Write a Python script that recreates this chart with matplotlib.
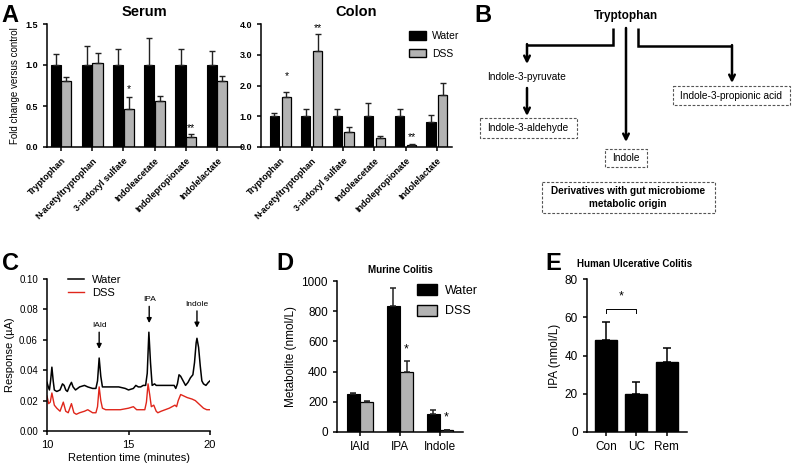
import numpy as np
import matplotlib
matplotlib.use("Agg")
import matplotlib.pyplot as plt
from matplotlib.patches import Rectangle, Patch

plt.rcParams['font.family'] = ['Liberation Sans', 'DejaVu Sans']

# ---------------- data ----------------
a_metabolites = ["Tryptophan", "N-acetyltryptophan", "3-indoxyl sulfate",
                 "Indoleacetate", "Indolepropionate", "Indolelactate"]
serum_water = [1.0, 1.0, 1.0, 1.0, 1.0, 1.0]
serum_water_err = [0.13, 0.23, 0.19, 0.33, 0.20, 0.17]
serum_dss = [0.80, 1.02, 0.46, 0.56, 0.12, 0.81]
serum_dss_err = [0.05, 0.13, 0.15, 0.06, 0.035, 0.055]
serum_stars = ["", "", "*", "", "**", ""]
serum_star_y = [0, 0, 0.75, 0, 0.28, 0]

colon_water = [1.0, 1.0, 1.0, 1.0, 1.0, 0.80]
colon_water_err = [0.10, 0.25, 0.23, 0.43, 0.24, 0.24]
colon_dss = [1.63, 3.12, 0.50, 0.29, 0.07, 1.68]
colon_dss_err = [0.17, 0.54, 0.14, 0.08, 0.04, 0.39]
colon_stars = ["*", "**", "", "", "**", ""]
colon_star_y = [2.42, 3.98, 0, 0, 0.45, 0]

c_time_water = [10.0, 10.08, 10.15, 10.22, 10.3, 10.38, 10.45, 10.6, 10.8, 10.95, 11.05,
                11.15, 11.25, 11.4, 11.5, 11.6, 11.75, 12.0, 12.3, 12.5, 12.8, 13.0,
                13.1, 13.2, 13.3, 13.4, 13.7, 14.0, 14.4, 14.8, 15.0, 15.3, 15.45,
                15.6, 15.75, 15.9, 16.05, 16.15, 16.25, 16.35, 16.45, 16.6, 16.7,
                17.0, 17.5, 17.8, 17.9, 18.0, 18.1, 18.2, 18.35, 18.5, 18.65, 18.8,
                18.95, 19.05, 19.15, 19.2, 19.3, 19.4, 19.5, 19.6, 19.75, 19.9, 20.0]
c_resp_water = [0.032, 0.029, 0.027, 0.033, 0.042, 0.033, 0.027, 0.026, 0.027, 0.031, 0.030,
                0.027, 0.026, 0.030, 0.032, 0.029, 0.027, 0.029, 0.030, 0.029, 0.028, 0.028,
                0.033, 0.048, 0.036, 0.029, 0.029, 0.029, 0.029, 0.028, 0.027, 0.028, 0.030,
                0.029, 0.029, 0.030, 0.030, 0.038, 0.065, 0.045, 0.030, 0.031, 0.030,
                0.030, 0.030, 0.030, 0.028, 0.031, 0.037, 0.036, 0.033, 0.030, 0.032, 0.035,
                0.037, 0.045, 0.058, 0.061, 0.055, 0.043, 0.033, 0.031, 0.030, 0.032, 0.033]
c_time_dss = [10.0, 10.1, 10.2, 10.3, 10.45, 10.6, 10.8, 11.0, 11.15, 11.3, 11.5, 11.65,
              11.8, 12.0, 12.3, 12.5, 12.8, 13.0, 13.1, 13.2, 13.3, 13.4, 13.6, 14.0,
              14.5, 15.0, 15.3, 15.5, 15.8, 16.0, 16.1, 16.2, 16.3, 16.4, 16.55, 16.7,
              16.8, 17.0, 17.5, 17.85, 17.95, 18.05, 18.2, 18.4, 18.6, 18.9, 19.1,
              19.3, 19.5, 19.6, 19.8, 20.0]
c_resp_dss = [0.023, 0.018, 0.019, 0.025, 0.017, 0.015, 0.013, 0.019, 0.013, 0.012, 0.018, 0.012,
              0.011, 0.012, 0.013, 0.014, 0.012, 0.012, 0.016, 0.029, 0.020, 0.015, 0.014, 0.014,
              0.014, 0.015, 0.016, 0.014, 0.014, 0.014, 0.019, 0.031, 0.024, 0.016, 0.017, 0.013,
              0.012, 0.013, 0.015, 0.017, 0.016, 0.020, 0.024, 0.023, 0.022, 0.021, 0.020,
              0.018, 0.016, 0.015, 0.014, 0.014]
c_peaks = ["IAld", "IPA", "Indole"]
c_peak_times = [13.2, 16.27, 19.2]
c_peak_text_y = [0.067, 0.084, 0.081]

d_metabolites = ["IAld", "IPA", "Indole"]
d_water = [250, 835, 122]
d_water_err = [6, 118, 25]
d_dss = [197, 400, 12]
d_dss_err = [5, 70, 3]
d_stars = ["", "*", "*"]

e_groups = ["Con", "UC", "Rem"]
e_values = [48, 20, 36.5]
e_err = [9.5, 6, 7.5]

# ---------------- layout helpers ----------------
W, H = 792, 463
fig = plt.figure(figsize=(W / 100, H / 100), dpi=100)


def fx(x):
    return x / W


def fy(y):
    return 1 - y / H


def add_ax(x0, y0, x1, y1):
    return fig.add_axes([fx(x0), fy(y1), fx(x1) - fx(x0), fy(y0) - fy(y1)])


def style(ax, lw=1.1):
    for s in ['top', 'right']:
        ax.spines[s].set_visible(False)
    for s in ['left', 'bottom']:
        ax.spines[s].set_linewidth(lw)
    ax.tick_params(direction='out', length=3, width=lw)


GRAY = '#b3b3b3'

# ---------------- panel A ----------------
def panel_a(ax, water, werr, dss, derr, stars, star_y, ylim, yticks, title, xlim, bw, off):
    x = np.arange(len(a_metabolites))
    zeros = np.zeros(len(x))
    ax.bar(x - off, water, bw, color='black', edgecolor='black', linewidth=0.8,
           yerr=[zeros, werr], error_kw=dict(ecolor='#222222', elinewidth=1.0, capsize=2.2, capthick=1.0))
    ax.bar(x + off, dss, bw, color=GRAY, edgecolor='black', linewidth=0.9,
           yerr=[zeros, derr], error_kw=dict(ecolor='#222222', elinewidth=1.0, capsize=2.2, capthick=1.0))
    for i, s in enumerate(stars):
        if s:
            ax.text(x[i] + off, star_y[i] - ylim[1] * 0.03, s, ha='center', va='center',
                    fontsize=7.5, clip_on=False)
    ax.set_ylim(*ylim)
    ax.set_xlim(*xlim)
    ax.set_yticks(yticks)
    ax.set_yticklabels([f"{t:.1f}" for t in yticks], fontsize=6.5, fontweight='bold')
    ax.set_xticks(x)
    ax.set_xticklabels(a_metabolites, rotation=45, ha='right', rotation_mode='anchor',
                       fontsize=6.5, fontweight='bold')
    ax.set_title(title, fontsize=10.5, fontweight='bold', pad=6)
    style(ax)


ax_s = add_ax(47, 24, 242, 147)
panel_a(ax_s, serum_water, serum_water_err, serum_dss, serum_dss_err, serum_stars, serum_star_y,
        (0, 1.5), [0.0, 0.5, 1.0, 1.5], "Serum", (-0.45, 5.8), 0.33, 0.17)
ax_s.set_ylabel("Fold change versus control", fontsize=7, labelpad=4)

ax_c = add_ax(261, 24, 452, 147)
panel_a(ax_c, colon_water, colon_water_err, colon_dss, colon_dss_err, colon_stars, colon_star_y,
        (0, 4.0), [0.0, 1.0, 2.0, 3.0, 4.0], "Colon", (-0.62, 5.48), 0.29, 0.19)
ax_c.legend(handles=[Patch(facecolor='black', edgecolor='black'),
                     Patch(facecolor=GRAY, edgecolor='black')],
            labels=["Water", "DSS"], loc='upper left', bbox_to_anchor=(fx(400), fy(22)),
            bbox_transform=fig.transFigure, frameon=False, fontsize=7.5,
            handlelength=1.6, handleheight=0.9, handletextpad=0.6, labelspacing=0.7)

# ---------------- panel B (diagram) ----------------
axb = fig.add_axes([0, 0, 1, 1], zorder=-1)
axb.set_xlim(0, W)
axb.set_ylim(H, 0)
axb.axis('off')

lw_arrow = 1.8
def seg(xs, ys):
    axb.plot(xs, ys, color='black', lw=lw_arrow, solid_capstyle='butt', solid_joinstyle='miter')

def arrow(x, y0, y1):
    axb.annotate("", xy=(x, y1), xytext=(x, y0),
                 arrowprops=dict(arrowstyle='->', lw=lw_arrow, color='black',
                                 mutation_scale=10, shrinkA=0, shrinkB=0))

def dbox(x0, y0, x1, y1):
    axb.add_patch(Rectangle((x0, y0), x1 - x0, y1 - y0, fill=False, edgecolor='#555555',
                            linestyle=(0, (2.5, 1.5)), lw=0.8))

axb.text(626, 16, "Tryptophan", ha='center', va='center', fontsize=8.5, fontweight='bold')
seg([613, 613, 527], [28, 45, 45])
arrow(527, 44.1, 64)
axb.text(527, 77, "Indole-3-pyruvate", ha='center', va='center', fontsize=7.3)
arrow(527, 88, 116)
dbox(480, 118, 577, 138)
axb.text(528, 128, "Indole-3-aldehyde", ha='center', va='center', fontsize=7.3)

arrow(626, 28, 142)
dbox(605, 149, 647, 167)
axb.text(626, 158, "Indole", ha='center', va='center', fontsize=7.3)

seg([638, 638, 732], [28, 46, 46])
arrow(732, 45.1, 83)
dbox(673, 86, 790, 105)
axb.text(731, 96, "Indole-3-propionic acid", ha='center', va='center', fontsize=7.3)

dbox(542, 182, 715, 213)
axb.text(628, 197.5, "Derivatives with gut microbiome\nmetabolic origin", ha='center', va='center',
         fontsize=7.2, fontweight='bold', linespacing=1.35)

# ---------------- panel C ----------------
ax3 = add_ax(47, 279, 210, 431)
ax3.plot(c_time_water, c_resp_water, color='black', lw=1.1, label="Water")
ax3.plot(c_time_dss, c_resp_dss, color='#e0261b', lw=1.0, label="DSS")
for name, t, ty in zip(c_peaks, c_peak_times, c_peak_text_y):
    ax3.text(t, ty, name, ha='center', va='bottom', fontsize=6)
    ax3.annotate("", xy=(t, ty - 0.013), xytext=(t, ty - 0.002),
                 arrowprops=dict(arrowstyle='-|>', lw=1.0, color='black', mutation_scale=7,
                                 shrinkA=0, shrinkB=0))
ax3.set_xlim(10, 20)
ax3.set_ylim(0, 0.10)
ax3.set_xticks([10, 15, 20])
ax3.set_yticks([0.0, 0.02, 0.04, 0.06, 0.08, 0.10])
ax3.set_yticklabels(["0.00", "0.02", "0.04", "0.06", "0.08", "0.10"], fontsize=7)
ax3.tick_params(axis='x', labelsize=8)
ax3.set_xlabel("Retention time (minutes)", fontsize=8, labelpad=2)
ax3.set_ylabel("Response (µA)", fontsize=8, labelpad=3)
style(ax3)
ax3.legend(loc='upper left', bbox_to_anchor=(fx(58), fy(265)), bbox_transform=fig.transFigure,
           frameon=False, fontsize=8, handlelength=1.4, handletextpad=0.8, labelspacing=0.3)

# ---------------- panel D ----------------
ax4 = add_ax(337, 281, 463, 432)
xd = np.arange(len(d_metabolites))
zd = np.zeros(len(xd))
ax4.bar(xd - 0.165, d_water, 0.33, color='black', edgecolor='black', linewidth=0.8,
        yerr=[zd, d_water_err], error_kw=dict(ecolor='#222222', elinewidth=1.1, capsize=2.5, capthick=1.1))
ax4.bar(xd + 0.165, d_dss, 0.33, color=GRAY, edgecolor='black', linewidth=0.9,
        yerr=[zd, d_dss_err], error_kw=dict(ecolor='#222222', elinewidth=1.1, capsize=2.5, capthick=1.1))
for i, s in enumerate(d_stars):
    if s:
        ax4.text(xd[i] + 0.165, d_dss[i] + d_dss_err[i] + 40, s, ha='center', va='bottom', fontsize=9)
ax4.set_xlim(-0.575, 2.575)
ax4.set_ylim(0, 1000)
ax4.set_yticks([0, 200, 400, 600, 800, 1000])
ax4.set_xticks(xd)
ax4.set_xticklabels(d_metabolites)
ax4.tick_params(labelsize=8.5)
ax4.set_ylabel("Metabolite (nmol/L)", fontsize=8.5, labelpad=3)
ax4.set_title("Murine Colitis", fontsize=7, fontweight='bold', pad=6)
style(ax4)
ax4.legend(handles=[Patch(facecolor='black', edgecolor='black'),
                    Patch(facecolor=GRAY, edgecolor='black')],
           labels=["Water", "DSS"], loc='upper left', bbox_to_anchor=(fx(406), fy(273)),
           bbox_transform=fig.transFigure, frameon=False, fontsize=9,
           handlelength=1.6, handleheight=1.0, handletextpad=0.6, labelspacing=0.6)

# ---------------- panel E ----------------
ax5 = add_ax(587, 279, 687, 432)
xe = np.arange(len(e_groups))
ax5.bar(xe, e_values, 0.72, color='black', edgecolor='black',
        yerr=[np.zeros(len(xe)), e_err], error_kw=dict(ecolor='black', elinewidth=1.1, capsize=3, capthick=1.1))
ax5.plot([xe[0], xe[0], xe[1], xe[1]], [62.3, 64.3, 64.3, 62.3], color='black', lw=0.7)
ax5.text((xe[0] + xe[1]) / 2, 67.5, "*", ha='center', va='bottom', fontsize=9)
ax5.set_xlim(-0.62, 2.66)
ax5.set_ylim(0, 80)
ax5.set_yticks([0, 20, 40, 60, 80])
ax5.set_xticks(xe)
ax5.set_xticklabels(e_groups)
ax5.tick_params(labelsize=8.5)
ax5.set_ylabel("IPA (nmol/L)", fontsize=8.5, labelpad=3)
style(ax5)
fig.text(fx(577), fy(264), "Human Ulcerative Colitis", fontsize=7, fontweight='bold', va='center')

# ---------------- panel letters ----------------
for lab, x, y in [("A", 1, 15), ("B", 474, 16), ("C", 2, 263), ("D", 276, 263), ("E", 545, 263)]:
    fig.text(fx(x), fy(y), lab, fontsize=17, fontweight='bold', va='center', ha='left')

fig.savefig("out.png", dpi=100)
